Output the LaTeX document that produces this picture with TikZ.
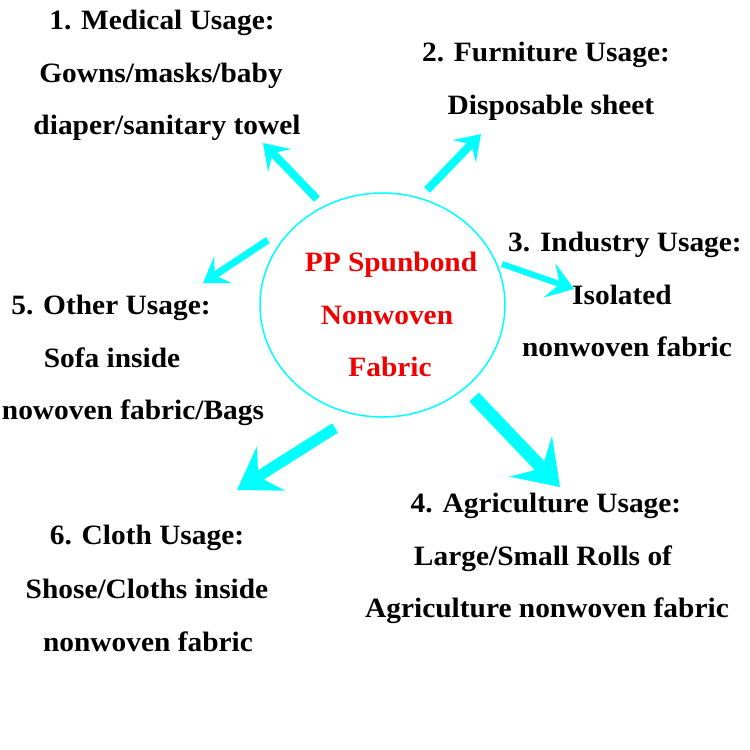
\documentclass[tikz,border=0pt]{standalone}
\usepackage{fontspec}
\usetikzlibrary{arrows.meta,shapes.geometric}
\newfontfamily\lblfont{Liberation Serif Bold}[FakeStretch=1.05]
\definecolor{aqua}{RGB}{0,255,255}
\definecolor{redtxt}{RGB}{240,0,0}
\tikzset{
  lbl/.style={font={\lblfont\fontsize{28}{32}\selectfont}, anchor=base, inner sep=0pt, text=black},
  ctr/.style={lbl, text=redtxt},
  usearrow/.style={draw=aqua, line width=#1},
  bighead/.style={-{Stealth[length=40pt, width=52pt, inset=15pt]}},
  smallhead/.style={-{Stealth[length=24pt, width=32pt, inset=10pt]}},
}
\begin{document}
\begin{tikzpicture}[x=1pt, y=-1pt]
\useasboundingbox (0,0) rectangle (750,750);
\fill[white] (0,0) rectangle (750,750);
% centre
\node[draw=aqua, line width=1.5pt, ellipse, minimum width=245pt, minimum height=224pt, inner sep=0pt] (c) at (382.5,305) {};
\node[ctr] (c1) at (391,271) {PP Spunbond};
\node[ctr] (c2) at (387,324) {Nonwoven};
\node[ctr] (c3) at (390,376) {Fabric};
% group 1
\node[lbl] (g1a) at (162,29) {1. Medical Usage:};
\node[lbl] (g1b) at (161,82) {Gowns/masks/baby};
\node[lbl] (g1c) at (167,134) {diaper/sanitary towel};
% group 2
\node[lbl] (g2a) at (546,61) {2. Furniture Usage:};
\node[lbl] (g2b) at (551,114) {Disposable sheet};
% group 3
\node[lbl] (g3a) at (625,251) {3. Industry Usage:};
\node[lbl] (g3b) at (622,304) {Isolated};
\node[lbl] (g3c) at (627,356) {nonwoven fabric};
% group 5
\node[lbl] (g5a) at (111,314) {5. Other Usage:};
\node[lbl] (g5b) at (112,367) {Sofa inside};
\node[lbl] (g5c) at (133,419) {nowoven fabric/Bags};
% group 6
\node[lbl] (g6a) at (147,544) {6. Cloth Usage:};
\node[lbl] (g6b) at (147,598) {Shose/Cloths inside};
\node[lbl] (g6c) at (148,651) {nonwoven fabric};
% group 4
\node[lbl] (g4a) at (546,512) {4. Agriculture Usage:};
\node[lbl] (g4b) at (543,565) {Large/Small Rolls of};
\node[lbl] (g4c) at (547,617) {Agriculture nonwoven fabric};
% arrows
\coordinate (s1) at (317,199); \coordinate (t1) at (263,143);
\coordinate (s2) at (427,190); \coordinate (t2) at (481,134);
\coordinate (s3) at (502,264); \coordinate (t3) at (574,289);
\coordinate (s5) at (268,240); \coordinate (t5) at (203,283);
\coordinate (s6) at (335,428); \coordinate (t6) at (237,490);
\coordinate (s4) at (474,397); \coordinate (t4) at (560,487);
\draw[usearrow=8pt, smallhead] (s1) -- (t1);
\draw[usearrow=8pt, smallhead] (s2) -- (t2);
\draw[usearrow=6pt, -{Stealth[length=26pt, width=36pt, inset=11pt]}] (s3) -- (t3);
\draw[usearrow=7pt, smallhead] (s5) -- (t5);
\draw[usearrow=11pt, bighead] (s6) -- (t6);
\draw[usearrow=13pt, -{Stealth[length=42pt, width=58pt, inset=16pt]}] (s4) -- (t4);
\end{tikzpicture}
\end{document}
